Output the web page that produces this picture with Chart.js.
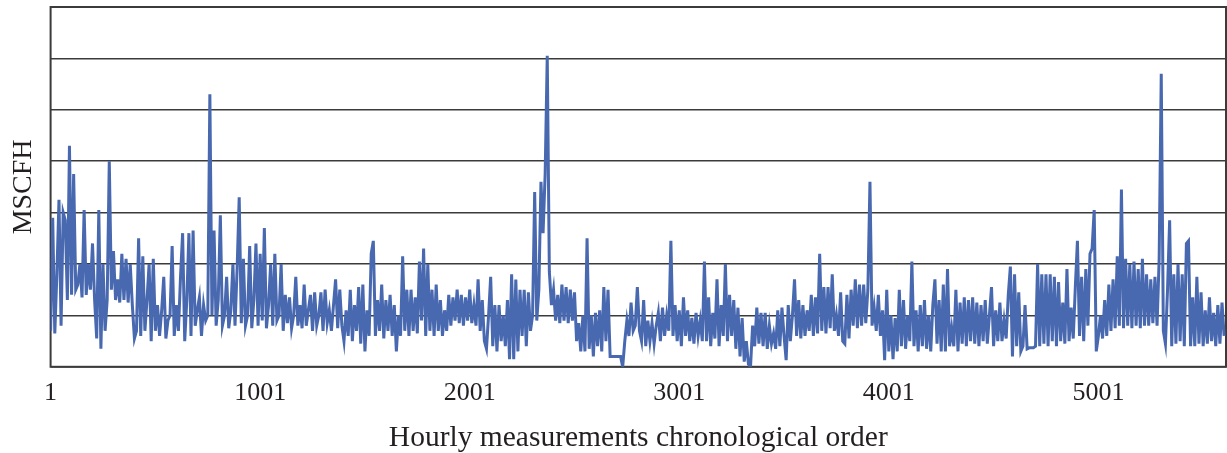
<!DOCTYPE html>
<html>
<head>
<meta charset="utf-8">
<title>MSCFH hourly measurements</title>
<script src="https://cdn.jsdelivr.net/npm/chart.js@4.4.1/dist/chart.umd.min.js"></script>
<style>
    html, body { margin: 0; padding: 0; background: #fff; }
    #wrap { width: 1227px; height: 453px; }
</style>
</head>
<body>
<div id="wrap"><canvas id="flowChart"></canvas></div>
<script>
// one reading every 10 hours (units = grid steps)
const HOUR_STEP = 10;

const seg1 = [ // hours 1 - 991
    0.7, 2.9, 0.65, 1.8, 3.25, 0.8, 3.0, 2.85, 1.3, 4.3,
    1.4, 3.75, 1.5, 1.6, 2.0, 1.35, 3.05, 1.4, 2.0, 1.5,
    2.4, 1.3, 0.55, 3.05, 0.35, 2.0, 0.7, 1.3, 4.0, 1.5,
    2.25, 1.3, 1.7, 1.25, 2.2, 1.3, 2.1, 1.25, 2.0, 1.2,
    0.55, 0.7, 2.5, 0.6, 2.15, 0.7, 1.3, 2.0, 0.5, 2.1,
    0.7, 1.2, 0.6, 1.1, 1.75, 0.55, 0.9, 1.0, 2.35, 0.6,
    1.2, 0.7, 1.75, 2.6, 0.5, 1.3, 2.6, 0.6, 2.65, 0.8,
    1.1, 1.35, 0.6, 1.2, 0.9, 1.0, 5.3, 1.0, 2.65, 0.8,
    1.3, 2.95, 0.8, 1.0, 1.75, 0.75, 1.1, 2.0, 0.8, 1.9,
    3.3, 0.85, 2.1, 0.8, 1.0, 2.35, 0.75, 1.3, 2.4, 0.8
];
const seg2 = [ // hours 1001 - 1991
    2.2, 0.9, 2.7, 0.75, 1.2, 2.0, 0.8, 2.2, 0.9, 1.0,
    2.0, 0.7, 1.4, 0.85, 1.35, 0.75, 1.0, 1.75, 0.8, 1.2,
    0.75, 1.6, 0.8, 1.1, 1.4, 0.7, 1.45, 0.8, 1.0, 1.45,
    0.7, 1.5, 0.85, 1.1, 0.7, 1.2, 1.7, 0.75, 1.5, 0.8,
    0.5, 1.1, 0.6, 1.5, 0.5, 1.2, 0.7, 1.55, 0.45, 1.6,
    0.3, 1.1, 0.6, 2.2, 2.45, 0.6, 1.3, 0.7, 1.6, 0.55,
    1.3, 0.7, 1.4, 0.6, 1.2, 0.3, 1.0, 0.6, 2.15, 0.7,
    1.5, 0.6, 1.5, 0.7, 1.35, 0.65, 2.05, 0.9, 2.3, 0.6,
    2.0, 0.7, 1.5, 0.6, 1.6, 0.7, 1.3, 0.6, 1.1, 0.7,
    1.4, 0.8, 1.35, 0.9, 1.5, 0.85, 1.4, 0.8, 1.35, 0.9
];
const seg3 = [ // hours 2001 - 2991
    1.5, 0.85, 1.2, 0.8, 1.7, 0.7, 1.3, 0.5, 0.35, 1.0,
    1.75, 0.4, 1.2, 0.3, 1.2, 0.5, 1.0, 0.4, 1.3, 0.15,
    1.8, 0.15, 1.7, 0.3, 1.5, 0.6, 1.5, 0.4, 1.45, 0.7,
    1.0, 3.4, 0.9, 1.5, 3.6, 2.6, 3.75, 6.05, 1.85, 1.2,
    1.5, 0.9, 1.4, 0.85, 1.6, 0.9, 1.55, 0.85, 1.5, 0.9,
    1.45, 0.5, 0.85, 0.3, 1.0, 0.3, 2.5, 0.35, 1.0, 0.2,
    1.05, 0.4, 1.1, 0.3, 1.55, 0.5, 1.5, 0.2, 0.2, 0.2,
    0.2, 0.2, 0.2, 0.0, 0.5, 0.9, 0.6, 1.25, 0.7, 0.8,
    1.55, 0.7, 0.5, 1.3, 0.4, 0.9, 0.5, 0.85, 0.45, 0.8,
    1.05, 0.5, 1.15, 0.6, 1.0, 0.7, 2.45, 0.6, 1.2, 0.5
];
const seg4 = [ // hours 3001 - 3991
    1.1, 0.4, 1.35, 0.6, 1.1, 0.5, 0.95, 0.45, 1.05, 0.6,
    0.9, 0.5, 2.05, 0.5, 1.35, 0.4, 1.05, 0.55, 1.7, 0.4,
    1.2, 0.6, 2.0, 0.5, 1.4, 0.6, 1.3, 0.35, 1.15, 0.2,
    0.95, 0.1, 0.5, 0.05, 0.0, 0.8, 0.4, 1.15, 0.45, 1.05,
    0.4, 1.05, 0.35, 0.8, 0.45, 0.65, 0.35, 1.1, 0.4, 1.15,
    0.6, 0.13, 1.2, 0.5, 1.0, 1.7, 0.6, 1.3, 0.55, 1.2,
    0.6, 1.1, 0.7, 1.4, 0.6, 1.35, 0.65, 2.2, 0.7, 1.55,
    0.65, 1.55, 0.75, 1.8, 0.7, 1.0, 0.6, 1.45, 0.5, 0.45,
    1.4, 0.55, 1.5, 0.8, 1.7, 0.75, 1.6, 0.8, 1.6, 0.85,
    1.5, 3.6, 0.8, 1.15, 0.7, 1.4, 0.6, 1.1, 0.13, 1.5
];
const seg5 = [ // hours 4001 - 4991
    0.3, 1.0, 0.15, 0.95, 0.3, 1.5, 0.4, 1.3, 0.35, 1.0,
    0.5, 2.05, 0.4, 1.1, 0.3, 1.2, 0.4, 1.3, 0.35, 1.0,
    0.3, 1.2, 1.7, 0.45, 1.3, 0.3, 1.6, 0.3, 1.9, 0.4,
    0.75, 0.4, 1.5, 0.3, 1.25, 0.45, 1.35, 0.4, 1.3, 0.5,
    1.35, 0.45, 1.25, 0.4, 1.2, 0.5, 1.3, 0.45, 1.0, 1.55,
    0.4, 1.1, 0.5, 1.25, 0.5, 0.9, 0.55, 1.4, 1.95, 0.2,
    1.8, 0.4, 1.45, 0.3, 0.4, 1.2, 0.35, 0.37, 0.37, 0.37,
    0.4, 2.0, 0.4, 1.8, 0.45, 1.8, 0.4, 1.8, 0.5, 1.75,
    0.4, 1.65, 0.5, 1.25, 0.45, 1.9, 0.5, 1.15, 0.55, 1.55,
    2.45, 0.6, 1.75, 0.5, 1.9, 0.8, 2.2, 2.3, 3.05, 0.3
];
const seg6 = [ // hours 5001 - 5601
    0.6, 1.0, 0.55, 1.3, 0.6, 1.6, 0.7, 1.7, 0.75, 2.15,
    0.8, 3.45, 0.75, 2.1, 0.8, 2.0, 0.75, 2.05, 0.8, 1.9,
    0.75, 2.1, 0.8, 1.8, 0.8, 1.7, 0.85, 1.75, 0.8, 2.1,
    5.7, 0.7, 0.45, 1.5, 2.85, 0.4, 1.8, 0.45, 2.0, 0.5,
    1.8, 0.4, 2.4, 2.45, 0.4, 1.35, 0.4, 1.75, 0.45, 1.45,
    0.4, 1.1, 0.45, 1.35, 0.5, 1.05, 0.4, 1.2, 0.45, 1.25, 0.6
];

const tickHours = [1, 1001, 2001, 3001, 4001, 5001];
const xTitle = 'Hourly measurements chronological order';
const yTitle = 'MSCFH';

const values = [...seg1, ...seg2, ...seg3, ...seg4, ...seg5, ...seg6];
const points = values.map((v, i) => ({ x: 1 + i * HOUR_STEP, y: v }));

const serif = "'Liberation Serif', 'DejaVu Serif', serif";
const ink = '#231f20';
const rule = '#3b3b3b';

// box around the plot area, drawn under the line
const framePlugin = {
    id: 'frame',
    beforeDatasetsDraw(chart) {
        const { ctx, chartArea: a } = chart;
        ctx.save();
        ctx.strokeStyle = rule;
        ctx.lineWidth = 2;
        ctx.strokeRect(a.left, a.top, a.right - a.left, a.bottom - a.top);
        ctx.restore();
    }
};

new Chart(document.getElementById('flowChart'), {
    type: 'line',
    data: {
        datasets: [{
            data: points,
            borderColor: '#4868b0',
            borderWidth: 3,
            pointRadius: 0,
            tension: 0,
            fill: false
        }]
    },
    options: {
        responsive: true,
        maintainAspectRatio: false,
        animation: false,
        layout: { padding: { top: 7, right: 1, left: 0, bottom: 0 } },
        plugins: { legend: { display: false }, tooltip: { enabled: false } },
        scales: {
            x: {
                type: 'linear',
                min: 1,
                max: 5610,
                afterBuildTicks: scale => { scale.ticks = tickHours.map(v => ({ value: v })); },
                ticks: {
                    autoSkip: false,
                    maxRotation: 0,
                    padding: 11,
                    color: ink,
                    font: { family: serif, size: 26 },
                    callback: v => String(v)
                },
                grid: { display: false, drawTicks: false },
                border: { display: false },
                title: {
                    display: true,
                    text: xTitle,
                    color: ink,
                    font: { family: serif, size: 29.5, lineHeight: 1 },
                    padding: { top: 3.5, bottom: 0 }
                }
            },
            y: {
                min: 0,
                max: 7,
                ticks: { display: false, stepSize: 1 },
                grid: { color: rule, lineWidth: 1.5, drawTicks: false },
                border: { display: false },
                title: {
                    display: true,
                    text: yTitle,
                    color: ink,
                    font: { family: serif, size: 28 },
                    padding: { top: 7, bottom: 10 }
                }
            }
        }
    },
    plugins: [framePlugin]
});
</script>
</body>
</html>
